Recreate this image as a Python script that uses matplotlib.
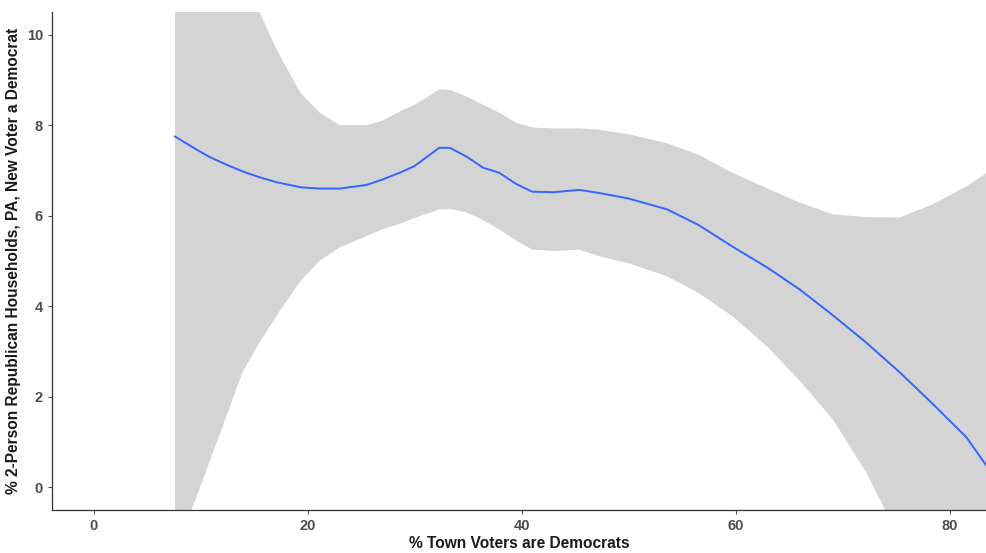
import matplotlib
matplotlib.use("Agg")
import matplotlib.pyplot as plt

plt.rcParams['font.family'] = ['Liberation Sans', 'DejaVu Sans']

# Data (loess fit with confidence band)
pct_dem = [7.6, 9.2, 10.8, 12.4, 13.9, 15.5, 17.1, 19.3, 21.1, 23.0, 25.5, 27.0,
           28.9, 30.0, 32.3, 33.3, 34.9, 36.4, 37.9, 39.5, 41.0, 43.0, 45.4, 47.3,
           50.0, 53.6, 56.5, 59.7, 63.0, 66.0, 69.1, 72.2, 75.3, 78.4, 81.6, 83.5]
fit = [7.75, 7.52, 7.30, 7.13, 6.98, 6.85, 6.74, 6.63, 6.60, 6.60, 6.68, 6.80,
       6.98, 7.10, 7.50, 7.50, 7.30, 7.06, 6.95, 6.70, 6.53, 6.52, 6.57, 6.50,
       6.38, 6.14, 5.80, 5.32, 4.85, 4.37, 3.80, 3.20, 2.55, 1.85, 1.10, 0.46]
upper = [16.0, 14.5, 13.2, 12.1, 11.3, 10.5, 9.67, 8.72, 8.28, 8.00, 8.00, 8.10,
         8.34, 8.45, 8.79, 8.78, 8.63, 8.45, 8.28, 8.05, 7.95, 7.93, 7.93, 7.90,
         7.80, 7.60, 7.35, 6.95, 6.60, 6.29, 6.03, 5.97, 5.96, 6.25, 6.65, 6.95]
lower = [-3.0, -0.46, 0.55, 1.57, 2.54, 3.20, 3.80, 4.55, 5.00, 5.30, 5.55, 5.70,
         5.85, 5.95, 6.14, 6.15, 6.07, 5.90, 5.70, 5.45, 5.25, 5.22, 5.25, 5.10,
         4.95, 4.66, 4.30, 3.78, 3.10, 2.35, 1.50, 0.33, -1.10, -3.00, -5.00, -6.50]

x_ticks = [0, 20, 40, 60, 80]
y_ticks = [0, 2, 4, 6, 8, 10]

fig = plt.figure(figsize=(9.87, 5.53), dpi=100)
ax = fig.add_axes([52/987, 43/553, 1 - 52/987, (510-12)/553])

ax.fill_between(pct_dem, lower, upper, color='#D4D4D4', linewidth=0, zorder=1)
ax.plot(pct_dem, fit, color='#3366FF', linewidth=1.4, zorder=2)

ax.set_xlim(-3.9, 83.5)
ax.set_ylim(-0.5, 10.5)
ax.set_xticks(x_ticks)
ax.set_yticks(y_ticks)

for s in ['top', 'right']:
    ax.spines[s].set_visible(False)
for s in ['left', 'bottom']:
    ax.spines[s].set_color('#333333')
    ax.spines[s].set_linewidth(0.9)

ax.tick_params(axis='both', colors='#555555', length=3, width=0.8,
               labelsize=10.5, labelcolor='#4D4D4D')
for lab in ax.get_xticklabels() + ax.get_yticklabels():
    lab.set_fontweight('bold')

ax.set_xlabel('% Town Voters are Democrats', fontsize=11.2, fontweight='bold',
              color='#1a1a1a', labelpad=2)
ax.set_ylabel('% 2-Person Republican Households, PA, New Voter a Democrat',
              fontsize=11.2, fontweight='bold', color='#1a1a1a', labelpad=4)

fig.savefig('out.png', dpi=100)
